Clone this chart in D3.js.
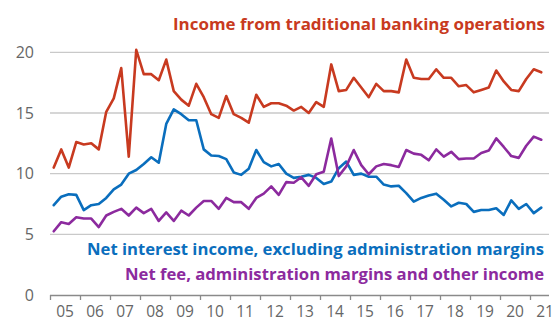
<!DOCTYPE html>
<html>
<head>
<meta charset="utf-8">
<script src="https://cdn.jsdelivr.net/npm/d3@7/dist/d3.min.js"></script>
<style>
  html, body { margin: 0; padding: 0; background: #fff; }
  svg { display: block; font-family: "Open Sans", "Noto Sans", sans-serif; }
</style>
</head>
<body>
<svg id="chart" width="553" height="320"></svg>
<script>
// Quarterly series, 2005 Q1 – 2021 Q2 (per cent)
const startYear = 2005;
const traditionalIncome = [
  10.5, 12.0, 10.5, 12.6, 12.4, 12.5, 12.0, 15.1, 16.2, 18.7, 11.4, 20.2, 18.2, 18.2, 17.7, 19.4,
  16.8, 16.1, 15.6, 17.4, 16.3, 14.9, 14.6, 16.4, 14.9, 14.6, 14.2, 16.5, 15.5, 15.8, 15.8, 15.6,
  15.2, 15.5, 15.0, 15.9, 15.5, 19.0, 16.8, 16.9, 17.9, 17.1, 16.3, 17.4, 16.8, 16.8, 16.7, 19.4,
  17.9, 17.8, 17.8, 18.6, 17.9, 17.9, 17.2, 17.3, 16.7, 16.9, 17.1, 18.5, 17.6, 16.9, 16.8, 17.8,
  18.6, 18.35
];
const netInterestIncome = [
  7.4, 8.1, 8.3, 8.25, 7.0, 7.4, 7.5, 8.0, 8.7, 9.1, 10.0, 10.3, 10.8, 11.35, 10.9, 14.1,
  15.3, 14.9, 14.4, 14.4, 12.0, 11.5, 11.45, 11.2, 10.1, 9.9, 10.4, 11.95, 10.95, 10.6, 10.8, 10.0,
  9.65, 9.75, 9.9, 9.65, 9.15, 9.35, 10.45, 11.0, 9.9, 10.0, 9.75, 9.75, 9.1, 8.95, 9.0, 8.4,
  7.7, 8.0, 8.2, 8.35, 7.85, 7.3, 7.6, 7.5, 6.85, 7.0, 7.0, 7.15, 6.6, 7.8, 7.1, 7.5,
  6.75, 7.2
];
const netFeeIncome = [
  5.25, 6.0, 5.85, 6.4, 6.3, 6.3, 5.6, 6.55, 6.85, 7.1, 6.55, 7.2, 6.75, 7.1, 6.1, 6.8,
  6.1, 6.95, 6.55, 7.2, 7.75, 7.75, 7.1, 8.0, 7.65, 7.65, 7.1, 8.0, 8.35, 8.95, 8.25, 9.3,
  9.25, 9.7, 9.0, 9.95, 10.15, 12.9, 9.8, 10.6, 11.95, 10.7, 9.95, 10.6, 10.8, 10.7, 10.55, 11.95,
  11.65, 11.55, 11.1, 12.0, 11.4, 11.8, 11.2, 11.25, 11.25, 11.7, 11.9, 12.9, 12.2, 11.45, 11.3, 12.3,
  13.05, 12.8
];
const yTicks = [0, 5, 10, 15, 20];
const yearLabels = ["05", "06", "07", "08", "09", "10", "11", "12", "13", "14", "15", "16", "17", "18", "19", "20", "21"];

const seriesLabels = [
  "Income from traditional banking operations",
  "Net interest income, excluding administration margins",
  "Net fee, administration margins and other income"
];
const seriesColors = ["#c83a20", "#0a6ebd", "#8c2a9e"];

const svg = d3.select("#chart");
const plot = { left: 50, right: 549, top: 52, bottom: 295 };

// Time axis in years; each quarter sits at the middle of its span
const x = d3.scaleLinear()
  .domain([startYear, startYear + 16])
  .range([plot.left, 530]);
const y = d3.scaleLinear().domain([0, 20]).range([plot.bottom, plot.top + 0.3]);

const qx = i => x(startYear + (i + 0.5) / 4);

// Horizontal gridlines
svg.append("g")
  .selectAll("line")
  .data(yTicks.filter(t => t > 0))
  .join("line")
  .attr("x1", plot.left).attr("x2", plot.right)
  .attr("y1", d => y(d)).attr("y2", d => y(d))
  .attr("stroke", "#c9c9c9").attr("stroke-width", 1.3);

// Y-axis labels
svg.append("g")
  .selectAll("text")
  .data(yTicks)
  .join("text")
  .attr("x", 34)
  .attr("y", d => y(d))
  .attr("dy", "0.36em")
  .attr("text-anchor", "end")
  .attr("font-size", 16)
  .attr("fill", "#666")
  .text(d => d);

// X axis: year boundary ticks below the baseline
const xAxis = d3.axisBottom(x)
  .tickValues(d3.range(startYear, startYear + 17))
  .tickFormat("")
  .tickSizeInner(5)
  .tickSizeOuter(0);
const gx = svg.append("g")
  .attr("transform", `translate(0,${plot.bottom})`)
  .call(xAxis);
gx.select(".domain").attr("d", `M${plot.left},0.5H${plot.right}`).attr("stroke", "#8a8a8a").attr("stroke-width", 1.3);
gx.selectAll(".tick line").attr("stroke", "#8a8a8a").attr("stroke-width", 1.3);

// Year labels centred within each year
svg.append("g")
  .selectAll("text")
  .data(yearLabels)
  .join("text")
  .attr("x", (d, i) => x(startYear + i + 0.5))
  .attr("y", 316.5)
  .attr("text-anchor", "middle")
  .attr("font-size", 15.5)
  .attr("fill", "#666")
  .text(d => d);

// Lines
const line = d3.line()
  .x((d, i) => qx(i))
  .y(d => y(d));

[traditionalIncome, netInterestIncome, netFeeIncome].forEach((data, k) => {
  svg.append("path")
    .datum(data)
    .attr("d", line)
    .attr("fill", "none")
    .attr("stroke", seriesColors[k])
    .attr("stroke-width", 2.6)
    .attr("stroke-linejoin", "round")
    .attr("stroke-linecap", "round");
});

// Series labels
const labelPos = [
  { x: 545, y: 29.5, left: 173 },
  { x: 544, y: 255, left: 87 },
  { x: 544, y: 280, left: 125 }
];
seriesLabels.forEach((t, k) => {
  svg.append("text")
    .attr("x", labelPos[k].left)
    .attr("y", labelPos[k].y)
    .attr("font-size", 15.5)
    .attr("font-weight", 700)
    .attr("fill", seriesColors[k])
    .attr("textLength", labelPos[k].x - labelPos[k].left)
    .attr("lengthAdjust", "spacingAndGlyphs")
    .text(t);
});
</script>
</body>
</html>
